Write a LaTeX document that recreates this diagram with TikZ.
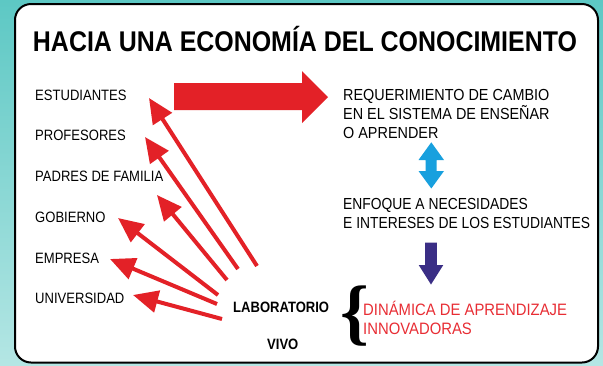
\documentclass[tikz,border=0pt]{standalone}
\usepackage{fontspec}
\setmainfont{Liberation Sans}
\newfontfamily\condfont{Liberation Sans}[FakeStretch=0.87]
\newfontfamily\rightfont{Liberation Sans}[FakeStretch=0.9]
\newfontfamily\rightfontn{Liberation Sans}[FakeStretch=0.865]
\newfontfamily\titlefont{Liberation Sans}[FakeStretch=0.875]
\newfontfamily\bracefont{Liberation Serif}
\usetikzlibrary{arrows.meta}
\definecolor{bgtop}{RGB}{93,200,196}
\definecolor{bgbot}{RGB}{180,230,228}
\definecolor{arred}{RGB}{227,33,39}
\definecolor{txtred}{RGB}{232,45,52}
\definecolor{arcyan}{RGB}{24,160,222}
\definecolor{arindigo}{RGB}{58,46,133}
\tikzset{
  x=1pt, y=-1pt,
  lbl/.style={anchor=base west, inner sep=0pt, font=\condfont\fontsize{15}{18}\selectfont, text=black},
  rtxt/.style={anchor=base west, inner sep=0pt, align=left, font=\rightfont\fontsize{16}{19}\selectfont, text=black},
  redtxt/.style={rtxt, text=txtred, font=\rightfont\fontsize{16.5}{19}\selectfont},
  boldtxt/.style={anchor=base west, inner sep=0pt, font=\condfont\bfseries\fontsize{15}{18}\selectfont},
  ray/.style={draw=arred, line width=4pt, -{Triangle[length=25pt,width=22pt]}},
}
\begin{document}
\begin{tikzpicture}
\useasboundingbox (0,0) rectangle (603,365);
% background
\shade[top color=bgtop, bottom color=bgbot] (0,0) rectangle (603,365);
\draw[fill=white, line width=2pt, rounded corners=16pt] (15,4) rectangle (598,362.5);

% title
\node[anchor=base, inner sep=0pt, font=\titlefont\bfseries\fontsize{28.5}{30}\selectfont] (title) at (305,51) {HACIA UNA ECONOMÍA DEL CONOCIMIENTO};

% left labels
\node[lbl] (est) at (35,100) {ESTUDIANTES};
\node[lbl] (prof) at (35,140) {PROFESORES};
\node[lbl] (pad) at (35,181) {PADRES DE FAMILIA};
\node[lbl] (gob) at (35,222) {GOBIERNO};
\node[lbl] (emp) at (35,263) {EMPRESA};
\node[lbl] (uni) at (35,303) {UNIVERSIDAD};

% laboratorio vivo
\node[boldtxt] (lab) at (233,312) {LABORATORIO};
\node[boldtxt] (vivo) at (267,349) {VIVO};

% right texts (base anchor = last line)
\node[rtxt] (req) at (343,138) {REQUERIMIENTO DE CAMBIO\\EN EL SISTEMA DE ENSEÑAR\\O APRENDER};
\node[rtxt, font=\rightfontn\fontsize{16}{19}\selectfont] (enf) at (343,228) {ENFOQUE A NECESIDADES\\E INTERESES DE LOS ESTUDIANTES};
\node[redtxt] (din) at (363,334) {DINÁMICA DE APRENDIZAJE\\INNOVADORAS};

% brace
\node[inner sep=0pt, font=\bracefont\bfseries\fontsize{73}{73}\selectfont] (brace) at (355,316.5) {\{};

% big red arrow
\fill[arred] (174,83) -- (302,83) -- (302,71) -- (328,97) -- (302,123) -- (302,110) -- (174,110) -- cycle;

% cyan double arrow
\fill[arcyan] (431.3,142.3) -- (444,160) -- (436.7,160) -- (436.7,171) -- (444,171) -- (431.3,188.5)
  -- (418.5,171) -- (425.5,171) -- (425.5,160) -- (418.5,160) -- cycle;

% indigo down arrow
\fill[arindigo] (425.2,242.7) -- (436.8,242.7) -- (436.8,265) -- (443.3,265) -- (431,284.5)
  -- (418.7,265) -- (425.2,265) -- cycle;

% thin red arrows
\coordinate (t1) at (257,266); \coordinate (h1) at (149,98);
\coordinate (t2) at (238,269); \coordinate (h2) at (145,137);
\coordinate (t3) at (227,280); \coordinate (h3) at (157,195);
\coordinate (t4) at (218,295); \coordinate (h4) at (118,218);
\coordinate (t5) at (217,304); \coordinate (h5) at (110,259);
\coordinate (t6) at (222,319); \coordinate (h6) at (133,295);
\foreach \i in {1,...,6} {\draw[ray] (t\i) -- (h\i);}
\end{tikzpicture}
\end{document}
